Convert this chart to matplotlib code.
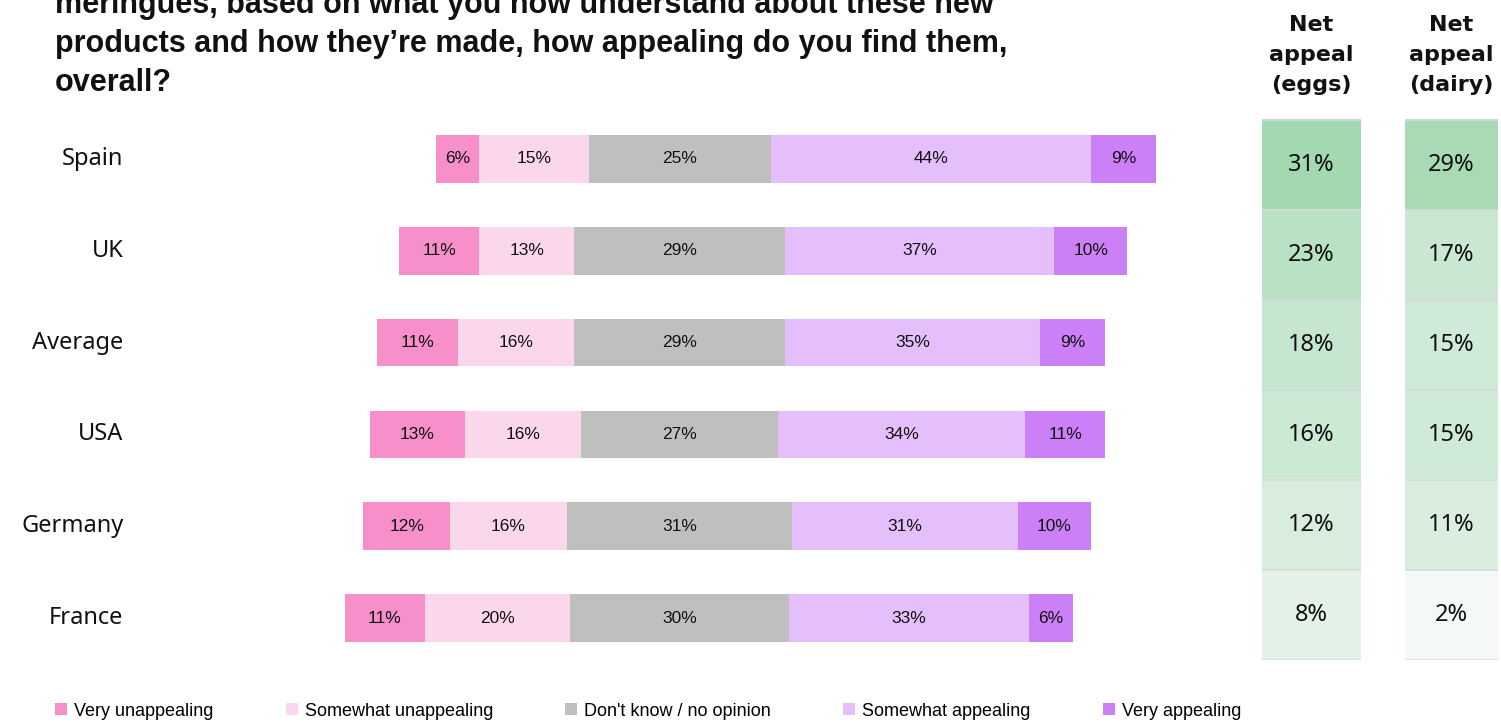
import matplotlib.pyplot as plt
import numpy as np
from matplotlib.colors import LinearSegmentedColormap, Normalize
from matplotlib.patches import Patch

countries = ['Spain', 'UK', 'Average', 'USA', 'Germany', 'France']
very_unappealing = [6, 11, 11, 13, 12, 11]
somewhat_unappealing = [15, 13, 16, 16, 16, 20]
dont_know = [25, 29, 29, 27, 31, 30]
somewhat_appealing = [44, 37, 35, 34, 31, 33]
very_appealing = [9, 10, 9, 11, 10, 6]
net_eggs = [31, 23, 18, 16, 12, 8]
net_dairy = [29, 17, 15, 15, 11, 2]

series = [
    ('Very unappealing', very_unappealing, '#F78FCB'),
    ('Somewhat unappealing', somewhat_unappealing, '#FBD7EB'),
    ("Don't know / no opinion", dont_know, '#BFBFBF'),
    ('Somewhat appealing', somewhat_appealing, '#E5BFFB'),
    ('Very appealing', very_appealing, '#CC80F7'),
]

W, H = 1501, 723
fig = plt.figure(figsize=(W / 100, H / 100), dpi=100)

def px_axes(x0, y0, x1, y1):
    # axes from pixel box (top-left origin)
    return fig.add_axes([x0 / W, 1 - y1 / H, (x1 - x0) / W, (y1 - y0) / H])

# Diverging stacked bars, centred on the middle of the neutral segment
ax = px_axes(130, 113, 1240, 664)
y = np.arange(len(countries))
left = -np.array(very_unappealing) - np.array(somewhat_unappealing) - np.array(dont_know) / 2
for name, vals, col in series:
    vals = np.array(vals)
    ax.barh(y, vals, left=left, height=0.52, color=col, edgecolor='none')
    for yi, l, v in zip(y, left, vals):
        ax.text(l + v / 2, yi, f'{v}%', ha='center', va='center', fontsize=12.5,
                family=['Liberation Sans', 'DejaVu Sans'], color='#111111')
    left = left + vals
ax.set_xlim(-75.5, 77.0)
ax.set_ylim(5.5, -0.5)
ax.axis('off')

for yi, c in zip(y, countries):
    ax.text(-76.4, yi, c, ha='right', va='center', fontsize=17,
            family=['Noto Sans', 'DejaVu Sans'], color='#111111', clip_on=False)

# Net appeal heat columns
cmap = LinearSegmentedColormap.from_list('net', ['#F4F8F6', '#A3D9B1'])
norm = Normalize(vmin=min(net_eggs + net_dairy), vmax=max(net_eggs + net_dairy))
for (x0, x1), vals, head in [((1262, 1361), net_eggs, 'Net\nappeal\n(eggs)'),
                             ((1405, 1498), net_dairy, 'Net\nappeal\n(dairy)')]:
    hx = px_axes(x0, 115, x1, 660)
    hx.imshow(np.array(vals).reshape(-1, 1), cmap=cmap, norm=norm, aspect='auto',
              extent=(0, 1, len(vals) - 0.5, -0.5))
    for yi, v in enumerate(vals):
        hx.text(0.5, yi, f'{v}%', ha='center', va='center', fontsize=17,
                family=['Noto Sans', 'DejaVu Sans'], color='#111111')
    hx.hlines(np.arange(len(vals) + 1) - 0.5, 0, 1, color='#D9D9D9', lw=1.2)
    hx.set_xlim(0, 1)
    hx.set_ylim(len(vals) - 0.5, -0.55)
    hx.axis('off')
    fig.text((x0 + x1) / 2 / W, 1 - 55 / H, head, ha='center', va='center',
             fontsize=16, fontweight='bold', linespacing=1.65,
             family='DejaVu Sans', color='#111111')

# Question text (first line runs off the top edge)
fig.text(55 / W, 1 + 10 / H,
         'meringues, based on what you now understand about these new\n'
         'products and how they\u2019re made, how appealing do you find them,\n'
         'overall?',
         ha='left', va='top', fontsize=22, fontweight='bold', linespacing=1.4,
         family=['Liberation Sans', 'DejaVu Sans'], color='#111111')

handles = [Patch(facecolor=c, edgecolor='none', label=n) for n, _, c in series]
fig.legend(handles=handles, loc='center left', bbox_to_anchor=(39 / W, 1 - 711 / H),
           ncol=5, frameon=False, handlelength=0.65, handleheight=0.65,
           handletextpad=0.4, columnspacing=4.0,
           prop={'family': ['Liberation Sans', 'DejaVu Sans'], 'size': 13})

fig.savefig('out.png', dpi=100)
